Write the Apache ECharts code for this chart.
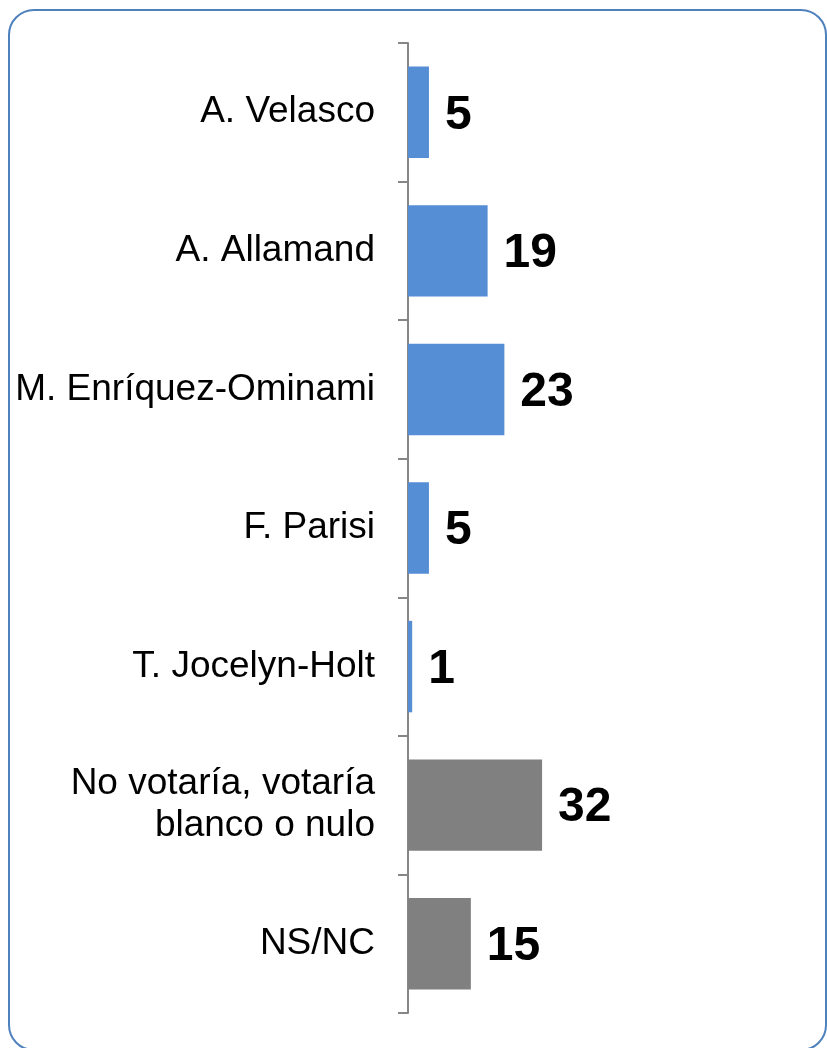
<!DOCTYPE html>
<html>
<head>
<meta charset="utf-8">
<script src="https://cdn.jsdelivr.net/npm/echarts@6/dist/echarts.min.js"></script>
<style>
  html, body { margin: 0; padding: 0; background: #ffffff; }
  #frame {
    position: absolute; left: 8px; top: 9px; width: 819px; height: 1042px;
    border: 2px solid #4f81bd; border-radius: 26px; box-sizing: border-box;
  }
  #chart { position: absolute; left: 0; top: 0; width: 827px; height: 1048px; }
</style>
</head>
<body>
<div id="frame"></div>
<div id="chart"></div>
<script>
// Vote intention by candidate (%)
const categories = [
  'A. Velasco',
  'A. Allamand',
  'M. Enríquez-Ominami',
  'F. Parisi',
  'T. Jocelyn-Holt',
  'No votaría, votaría\nblanco o nulo',
  'NS/NC'
];
const values = [5, 19, 23, 5, 1, 32, 15];
const barColors = ['#558ed5', '#558ed5', '#558ed5', '#558ed5', '#558ed5', '#808080', '#808080'];

const chart = echarts.init(document.getElementById('chart'), null, { renderer: 'canvas' });
chart.setOption({
  animation: false,
  grid: { left: 408, top: 43, width: 422, height: 970, containLabel: false },
  xAxis: {
    type: 'value', min: 0, max: 100, show: false
  },
  yAxis: {
    type: 'category',
    inverse: true,
    data: categories,
    axisLine: { show: true, lineStyle: { color: '#868686', width: 2 } },
    axisTick: { show: true, length: 10, lineStyle: { color: '#868686', width: 2 } },
    axisLabel: {
      margin: 33,
      fontFamily: 'Liberation Sans, Arial, sans-serif',
      fontSize: 37,
      color: '#000000',
      align: 'right',
      lineHeight: 42
    },
    splitLine: { show: false }
  },
  series: [{
    type: 'bar',
    barWidth: '66%',
    data: values.map((v, i) => ({ value: v, itemStyle: { color: barColors[i] } })),
    label: {
      show: true,
      position: 'right',
      distance: 16,
      offset: [0, 3],
      fontFamily: 'Liberation Sans, Arial, sans-serif',
      fontWeight: 'bold',
      fontSize: 48,
      color: '#000000'
    }
  }]
});
</script>
</body>
</html>
